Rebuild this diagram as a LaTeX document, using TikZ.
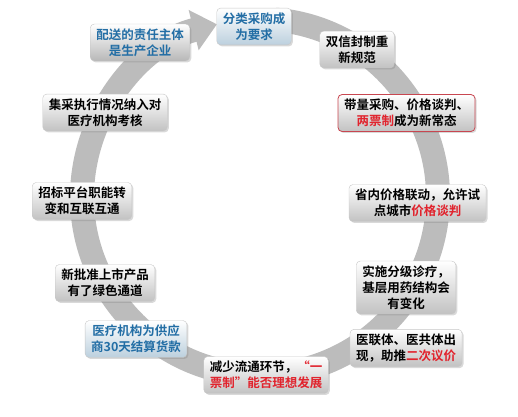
\documentclass[tikz,border=0pt]{standalone}
\usepackage{fontspec}
\newfontfamily\cjk[BoldFont={Noto Sans CJK SC Bold}]{Noto Sans CJK SC}
\usetikzlibrary{arrows.meta,shadows}
\definecolor{ringgray}{RGB}{188,188,188}
\definecolor{textblue}{RGB}{35,110,165}
\definecolor{textred}{RGB}{225,35,45}
\definecolor{boxred}{RGB}{200,70,80}
\definecolor{paleblue}{RGB}{188,208,222}
\newcommand{\hl}[1]{\textcolor{textred}{#1}}
\begin{document}
\begin{tikzpicture}[x=1pt, y=1pt,
  card/.style={draw=black!22, line width=0.4pt, rounded corners=4pt,
    top color=white, bottom color=black!24,
    drop shadow={shadow xshift=1.5pt, shadow yshift=-1.5pt, opacity=0.3},
    align=center, inner xsep=6pt, inner ysep=4.5pt,
    font=\cjk\bfseries\fontsize{12.5}{16}\selectfont},
  bluecard/.style={card, text=textblue, bottom color=paleblue},
  redcard/.style={card, draw=boxred, line width=0.8pt}]
  \useasboundingbox (0,0) rectangle (518,416);

  % ring with arrow head
  \coordinate (C) at (260,219);
  \draw[ringgray, line width=24pt, -{Triangle[width=40pt,length=24pt]}]
    ([shift={(85:178)}]C) arc[start angle=85, end angle=-256, radius=178];

  % cards, clockwise from the top
  \node[bluecard] (sort) at (254,389.5) {分类采购成\\为要求};
  \node[card] (envelope) at (357,366.5) {双信封制重\\新规范};
  \node[redcard] (volume) at (406.5,303) {带量采购、价格谈判、\\\hl{两票制}成为新常态};
  \node[card] (linkage) at (417.5,213) {省内价格联动，允许试\\点城市\hl{价格谈判}};
  \node[card] (tiered) at (406,128.5) {实施分级诊疗，\\基层用药结构会\\有变化};
  \node[card] (alliance) at (406,68) {医联体、医共体出\\现，助推\hl{二次议价}};
  \node[card] (oneticket) at (266,41) {减少流通环节，\hl{“一}\\\hl{票制”能否理想发展}};
  \node[bluecard] (payment) at (136,77) {医疗机构为供应\\商30天结算货款};
  \node[card] (newdrug) at (105,133) {新批准上市产品\\有了绿色通道};
  \node[card] (platform) at (82,215) {招标平台职能转\\变和互联互通};
  \node[card] (assess) at (105,303.5) {集采执行情况纳入对\\医疗机构考核};
  \node[card, text=textblue, bottom color=black!28] (delivery) at (140,373.5) {配送的责任主体\\是生产企业};
\end{tikzpicture}
\end{document}
